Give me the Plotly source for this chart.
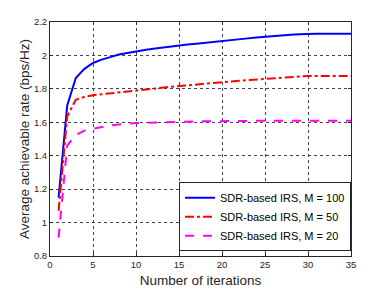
import plotly.graph_objects as go

iterations = list(range(1, 36))
rate_m100 = [1.15, 1.70, 1.865, 1.92, 1.955, 1.975, 1.99, 2.005, 2.015, 2.025,
             2.033, 2.04, 2.047, 2.054, 2.06, 2.065, 2.07, 2.076, 2.082, 2.087,
             2.092, 2.097, 2.102, 2.107, 2.112, 2.116, 2.12, 2.124, 2.127, 2.13,
             2.13, 2.13, 2.13, 2.13, 2.13]
rate_m50 = [1.07, 1.635, 1.735, 1.752, 1.762, 1.768, 1.774, 1.78, 1.786, 1.792,
            1.797, 1.802, 1.807, 1.812, 1.817, 1.822, 1.827, 1.832, 1.836, 1.84,
            1.844, 1.848, 1.852, 1.856, 1.86, 1.864, 1.868, 1.871, 1.874, 1.877,
            1.877, 1.877, 1.877, 1.877, 1.877]
rate_m20 = [0.91, 1.46, 1.525, 1.55, 1.562, 1.572, 1.58, 1.587, 1.592, 1.595,
            1.597, 1.599, 1.6, 1.601, 1.603, 1.604, 1.605, 1.606, 1.607, 1.608,
            1.608, 1.608, 1.609, 1.609, 1.609, 1.609, 1.609, 1.609, 1.609, 1.609,
            1.609, 1.609, 1.609, 1.609, 1.609]
names = ["SDR-based IRS, M = 100", "SDR-based IRS, M = 50", "SDR-based IRS, M = 20"]
x_ticks = [0, 5, 10, 15, 20, 25, 30, 35]
y_ticks = [0.8, 1.0, 1.2, 1.4, 1.6, 1.8, 2.0, 2.2]
y_tick_labels = ["0.8", "1", "1.2", "1.4", "1.6", "1.8", "2", "2.2"]

FONT = "Liberation Sans, Arial, Helvetica, sans-serif"

fig = go.Figure()
fig.add_trace(go.Scatter(x=iterations, y=rate_m100, mode="lines", name=names[0],
                         line=dict(color="#0000ff", width=2, dash="solid")))
fig.add_trace(go.Scatter(x=iterations, y=rate_m50, mode="lines", name=names[1],
                         line=dict(color="#ff0000", width=2, dash="dashdot")))
fig.add_trace(go.Scatter(x=iterations, y=rate_m20, mode="lines", name=names[2],
                         line=dict(color="#ff00ff", width=2, dash="dash")))

axis_common = dict(
    showline=True, linecolor="#262626", linewidth=1, mirror="ticks",
    ticks="inside", ticklen=3, tickcolor="#262626",
    showgrid=True, gridcolor="#444444", griddash="dot", gridwidth=1,
    zeroline=False, tickfont=dict(family=FONT, size=9.5, color="#262626"),
)

fig.update_xaxes(range=[0, 35], tickvals=x_ticks,
                 title=dict(text="Number of iterations", standoff=6,
                            font=dict(family=FONT, size=13.5, color="#262626")),
                 **axis_common)
fig.update_yaxes(range=[0.8, 2.2], tickvals=y_ticks, ticktext=y_tick_labels,
                 title=dict(text="Average achievable rate (bps/Hz)", standoff=1,
                            font=dict(family=FONT, size=13.5, color="#262626")),
                 **axis_common)

# the page body adds an 8px offset, so the figure is 8px smaller and left/top margins compensate
fig.update_layout(
    width=380, height=286,
    margin=dict(l=42, r=37, t=14, b=38, autoexpand=False),
    paper_bgcolor="white", plot_bgcolor="white",
    showlegend=True,
    legend=dict(x=1, y=0.02, xanchor="right", yanchor="bottom",
                bgcolor="white", bordercolor="#262626", borderwidth=1,
                font=dict(family=FONT, size=11, color="#000000"),
                tracegroupgap=0, itemwidth=30),
)

fig.write_html("out.html")
